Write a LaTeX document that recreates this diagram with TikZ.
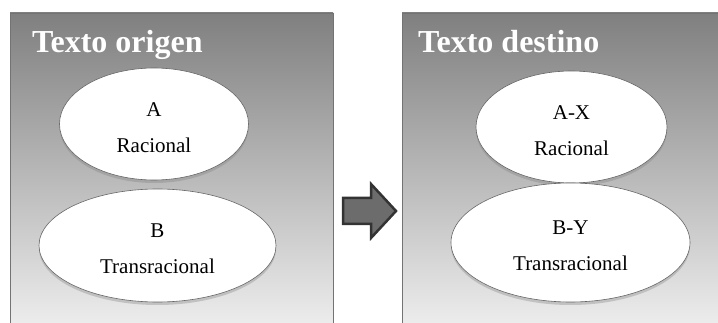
\documentclass[tikz,border=0pt]{standalone}
\usepackage{fontspec}
\setmainfont{Liberation Serif}
\usetikzlibrary{shapes.geometric,shadows}
\definecolor{paneltop}{gray}{0.50}
\definecolor{panelbot}{gray}{0.94}
\definecolor{edgegray}{gray}{0.45}
\newcommand{\toplinea}{\rule{0pt}{21pt}}
\tikzset{
	panel/.style={draw=edgegray, line width=0.8pt, top color=paneltop, bottom color=panelbot},
	title/.style={anchor=base west, text=white, font=\fontsize{32}{38}\selectfont\bfseries, inner sep=0pt},
	idea/.style={ellipse, draw=gray!80!black, line width=0.6pt, fill=white, align=center,
		font=\fontsize{21}{36}\selectfont, inner sep=0pt,
		drop shadow={opacity=0.35, shadow xshift=0pt, shadow yshift=-3pt}}
}
\begin{document}
\begin{tikzpicture}[x=1pt, y=-1pt]
	\useasboundingbox (0,0) rectangle (718,323);
	% paneles
	\path[panel] (10,333) -- (10,13) -- (333,13) -- (333,333);
	\path[panel] (402,333) -- (402,13) -- (718,13) -- (718,333);
	\node[title] (torigen) at (32,53) {Texto origen};
	\node[title] (tdestino) at (418,53) {Texto destino};
	% ideas
	\node[idea, minimum width=189pt, minimum height=112pt] (a) at (154,124) {\toplinea A\\Racional};
	\node[idea, minimum width=237pt, minimum height=113pt] (b) at (157.5,245.5) {\toplinea B\\Transracional};
	\node[idea, minimum width=191pt, minimum height=112pt] (ax) at (571.5,127) {\toplinea A-X\\Racional};
	\node[idea, minimum width=239pt, minimum height=119pt] (by) at (570.5,242.5) {\toplinea B-Y\\Transracional};
	% flecha
	\filldraw[draw=gray!40!black, fill=gray!85!black, line width=2.5pt, line join=miter]
		(343,198) -- (371,198) -- (371,184) -- (396,211) -- (371,238) -- (371,224) -- (343,224) -- cycle;
\end{tikzpicture}
\end{document}
